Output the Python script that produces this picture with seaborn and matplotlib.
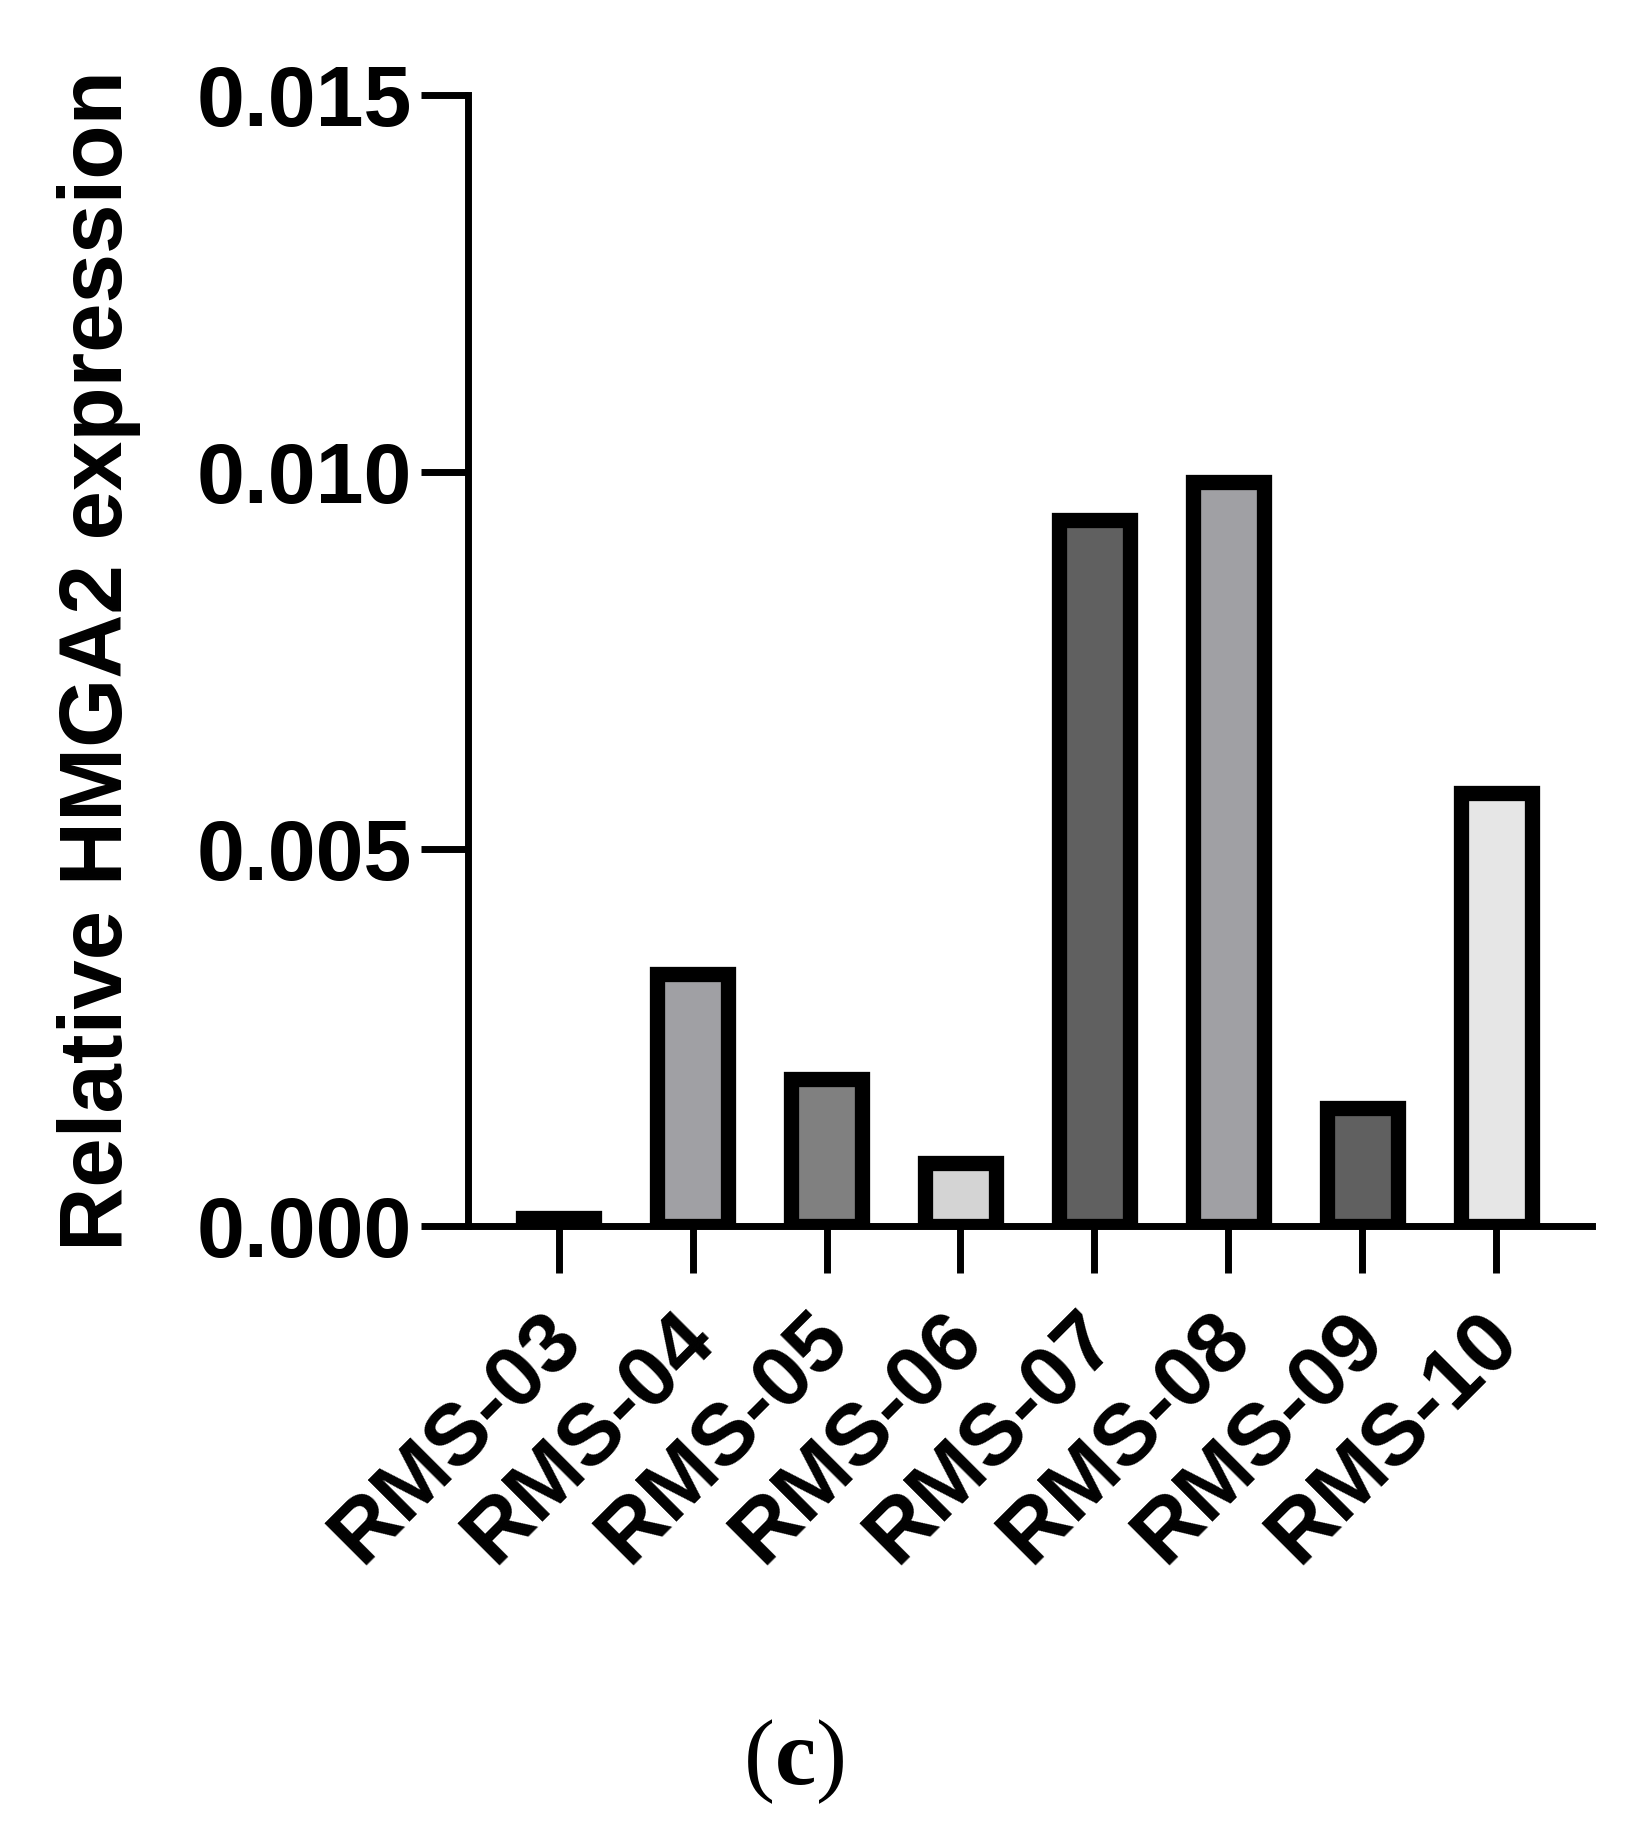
import pandas as pd
import seaborn as sns
import matplotlib.pyplot as plt
from matplotlib.transforms import ScaledTranslation

samples = ["RMS-03", "RMS-04", "RMS-05", "RMS-06", "RMS-07", "RMS-08", "RMS-09", "RMS-10"]
expression = [0.0001, 0.00335, 0.00195, 0.00083, 0.00937, 0.00987, 0.00156, 0.00575]
fills = ["#606060", "#a0a0a4", "#808080", "#d4d4d4", "#606060", "#a0a0a4", "#606060", "#e6e6e6"]
yticks = [0.0, 0.005, 0.010, 0.015]

sns.set_style("ticks")
plt.rcParams["font.family"] = ["Liberation Sans", "DejaVu Sans"]
plt.rcParams["text.color"] = "black"
plt.rcParams["xtick.color"] = "black"
plt.rcParams["ytick.color"] = "black"
plt.rcParams["axes.labelcolor"] = "black"

df = pd.DataFrame({"sample": samples, "expr": expression})

fig = plt.figure(figsize=(16.35, 18.34), dpi=100)
ax = fig.add_axes([0.286, 0.3315, 0.688, 0.6165])

sns.barplot(data=df, x="sample", y="expr", hue="sample", palette=fills,
            legend=False, width=0.53, edgecolor="black", linewidth=11, ax=ax)

ax.set_xlim(-0.68, 7.72)
ax.set_ylim(0, 0.015)
ax.set_yticks(yticks)
ax.set_yticklabels([f"{v:.3f}" for v in yticks])
ax.set_xlabel("")
ax.set_ylabel("Relative HMGA2 expression", fontsize=64, fontweight="bold", color="black")
ax.yaxis.set_label_coords(-0.29, 0.5)

sns.despine(ax=ax)
for s in ["left", "bottom"]:
    ax.spines[s].set_linewidth(5)
    ax.spines[s].set_color("black")
ax.tick_params(axis="both", length=34, width=5, color="black", labelcolor="black",
               labelsize=62, pad=6)

shift = ScaledTranslation(-0.19, -0.16, fig.dpi_scale_trans)
for lab in ax.get_xticklabels():
    lab.set_rotation(45)
    lab.set_ha("right")
    lab.set_rotation_mode("anchor")
    lab.set_fontweight("bold")
    lab.set_transform(lab.get_transform() + shift)
for lab in ax.get_yticklabels():
    lab.set_fontweight("bold")

# panel letter: plain parentheses, bold c
serif = "Liberation Serif"
t1 = fig.text(0.474, 0.0393, "(", fontsize=67, family=serif, ha="right", va="center")
t2 = ax.annotate("c", xy=(1, 0), xycoords=t1, fontsize=67, family=serif,
                 fontweight="bold", ha="left", va="bottom", annotation_clip=False)
ax.annotate(")", xy=(1, 0), xycoords=t2, fontsize=67, family=serif,
            ha="left", va="bottom", annotation_clip=False)

plt.savefig("out.png", dpi=100)
